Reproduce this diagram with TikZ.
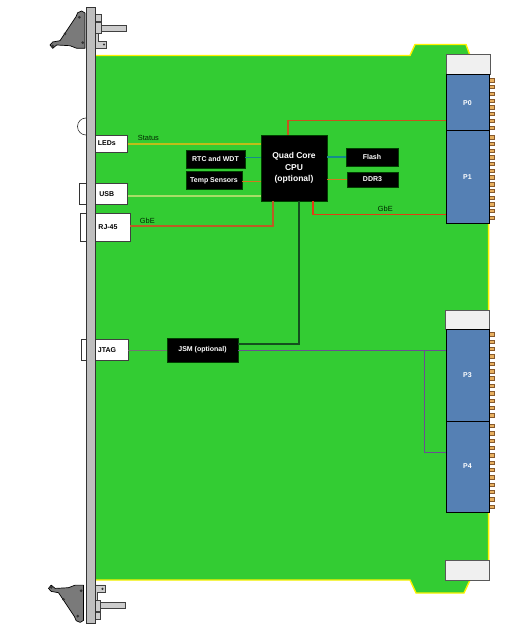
\documentclass[tikz,border=0pt]{standalone}
\usepackage{fontspec}
\setmainfont{Liberation Sans}
\definecolor{pcb}{HTML}{33CC33}
\definecolor{slotblue}{HTML}{5580B4}
\definecolor{capgrey}{HTML}{F0F0F0}
\definecolor{panelgrey}{HTML}{BEBEBE}
\definecolor{pinor}{HTML}{E8B060}
\tikzset{
  blackbox/.style={fill=black,draw=black!75!green,line width=.5pt,text=white,font=\bfseries\fontsize{7}{8.6}\selectfont,align=center,inner sep=0pt},
  sidebox/.style={fill=white,draw=black!75,line width=.8pt,text=black,font=\bfseries\fontsize{7}{8}\selectfont,inner sep=0pt},
  slotbox/.style={fill=slotblue,draw=black,line width=1pt,text=white,font=\bfseries\fontsize{7}{8}\selectfont,inner sep=0pt},
  capbox/.style={fill=capgrey,draw=black!65,line width=1pt},
  ear/.style={fill=white,draw=black!80,line width=.6pt},
  wire/.style={line width=1.2pt},
  thinwire/.style={line width=1pt},
  lbl/.style={font=\fontsize{7.4}{8}\selectfont,inner sep=0pt,text=black!85!green},
  latch/.style={fill=black!52,draw=black,line width=.7pt,line join=round},
  metal/.style={fill=black!20,draw=black!75,line width=.7pt},
  hole/.style={fill=black!80,draw=none},
  pin/.style={fill=pinor,draw=brown!70!black,line width=.4pt}
}
\newcommand{\hwparts}{%
    \draw[metal] (95,33.5) -- (98.5,33.5) -- (98.5,41.5) -- (106.5,41.5) -- (106.5,48.5) -- (95,48.5) -- cycle;
    \fill[hole] (104,44.5) circle (1.2);
    \draw[metal] (95.5,14) rectangle (101.5,21.5);
    \draw[metal] (95.5,22.5) rectangle (101.5,33.3);
    \draw[metal] (101.5,25.5) rectangle (126.5,31.5);
    \draw[latch] (81.7,11) -- (85,13) -- (85,48.3) -- (76.7,48.3) -- (70,45.7) -- (56.7,45) -- (52.7,48.3) -- (50,45) -- (52.7,42) -- (60,40.7) -- (76,16.7) -- (77.7,12.7) -- cycle;
    \foreach \hx/\hy in {79.3/17.3,65/34,82.7/42.7,52.7/46} \fill[hole] (\hx,\hy) circle (1.5);
}
\begin{document}
\begin{tikzpicture}[x=1pt,y=-1pt]
\useasboundingbox (0,0) rectangle (511,631);
\fill[white] (0,0) rectangle (511,631);
% board
\draw[fill=pcb,draw=yellow,line width=1.4pt,line join=round]
  (95,55.5) -- (410,55.5) -- (415,44.5) -- (466,44.5) -- (470,55.5) -- (488.6,55.5)
  -- (488.6,580) -- (470,580) -- (464,593) -- (416,593) -- (410,580) -- (95,580);
% hardware
\hwparts
\begin{scope}[shift={(-1.5,633.4)},yscale=-1]
\hwparts
\end{scope}
% pins
\foreach \i in {0,...,7} \draw[pin] (489.5,{78.5+\i*6.75}) rectangle +(4.5,3.4);
\foreach \i in {0,...,12} \draw[pin] (489.5,{135.5+\i*6.7}) rectangle +(4.5,3.4);
\foreach \i in {0,...,11} \draw[pin] (489.5,{332.5+\i*7.36}) rectangle +(4.5,3.4);
\foreach \i in {0,...,11} \draw[pin] (489.5,{424+\i*7.36}) rectangle +(4.5,3.4);
% front-panel ears
\draw[ear] (86,135) arc (90:270:8.5);
\draw[ear] (86,183.5) -- (79.5,183.5) -- (79.5,204.5) -- (86,204.5);
\draw[ear] (86,213) -- (80.5,213) -- (80.5,241.5) -- (86,241.5);
\draw[ear] (86,339.5) -- (81,339.5) -- (81,360.5) -- (86,360.5);
% nodes
\node[sidebox,minimum width=41.5pt,minimum height=17pt] (leds) at (106.75,143.5) {LEDs};
\node[sidebox,minimum width=41.5pt,minimum height=21pt] (usb) at (106.75,194) {USB};
\node[sidebox,minimum width=44pt,minimum height=28.5pt] (rj) at (108,227.25) {RJ-45};
\node[sidebox,minimum width=42pt,minimum height=21pt] (jtag) at (107,350) {JTAG};
\node[blackbox,minimum width=66pt,minimum height=66pt,font=\bfseries\fontsize{8.5}{11.2}\selectfont] (cpu) at (294,168) {Quad Core\\CPU\\(optional)};
\node[blackbox,minimum width=59pt,minimum height=18pt] (rtc) at (215.5,159) {RTC and WDT};
\node[blackbox,minimum width=56pt,minimum height=17.5pt] (temp) at (214,180.5) {Temp Sensors};
\node[blackbox,minimum width=52pt,minimum height=18pt] (flash) at (372,157) {Flash};
\node[blackbox,minimum width=51pt,minimum height=15pt] (ddr) at (372.5,179.5) {DDR3};
\node[blackbox,minimum width=71pt,minimum height=24pt] (jsm) at (202.5,350) {JSM (optional)};
\node[capbox,minimum width=44pt,minimum height=20pt,inner sep=0pt] (capa) at (468,65) {};
\node[capbox,minimum width=44pt,minimum height=19pt,inner sep=0pt] (capb) at (467,319.5) {};
\node[capbox,minimum width=44pt,minimum height=20pt,inner sep=0pt] (capc) at (467,570) {};
\node[slotbox,minimum width=43pt,minimum height=56pt] (p0) at (467.5,103) {P0};
\node[slotbox,minimum width=43pt,minimum height=92pt] (p1) at (467.5,177) {P1};
\node[slotbox,minimum width=43pt,minimum height=92pt] (p3) at (467.5,375) {P3};
\node[slotbox,minimum width=43pt,minimum height=91pt] (p4) at (467.5,466.5) {P4};
% connectors
\draw[wire,color={rgb,255:red,190;green,190;blue,25}] (leds.east |- 0,144) -- (cpu.west |- 0,144);
\draw[wire,color={rgb,255:red,168;green,222;blue,104}] (usb.east |- 0,196) -- (cpu.west |- 0,196);
\draw[wire,color={rgb,255:red,186;green,92;blue,36}] (rj.east |- 0,226) -- (273,226) -- (273,201);
\draw[wire,color={rgb,255:red,200;green,84;blue,30}] (288,135) -- (288,120.5) -- (p0.west |- 0,120.5);
\draw[wire,color={rgb,255:red,226;green,60;blue,20}] (313,201) -- (313,214.5) -- (p1.west |- 0,214.5);
\draw[thinwire,color={rgb,255:red,20;green,140;blue,140}] (rtc.east |- 0,157.5) -- (cpu.west |- 0,157.5);
\draw[thinwire,color={rgb,255:red,210;green,120;blue,30}] (temp.east |- 0,181) -- (cpu.west |- 0,181);
\draw[wire,color={rgb,255:red,20;green,140;blue,140}] (cpu.east |- flash.west) -- (flash.west);
\draw[thinwire,color={rgb,255:red,210;green,120;blue,30}] (cpu.east |- ddr.west) -- (ddr.west);
\draw[wire,color={rgb,255:red,20;green,80;blue,30}] (299,201) -- (299,344) -- (jsm.east |- 0,344);
\draw[thinwire,color=black!55] (jtag.east) -- (jsm.west);
\draw[thinwire,color={rgb,255:red,105;green,80;blue,145}] (jsm.east) -- (p3.west |- jsm.east);
\draw[thinwire,color={rgb,255:red,105;green,80;blue,145}] (424.5,350) -- (424.5,452) -- (p4.west |- 0,452);
% labels
\node[lbl,anchor=west] (st) at (137.7,138) {Status};
\node[lbl,anchor=west] (g1) at (139.7,221) {GbE};
\node[lbl,anchor=west] (g2) at (377.7,209) {GbE};
% front panel
\fill[panelgrey] (86,7.5) rectangle (95,623);
\draw[black!80,line width=.8pt] (86,623) -- (86,7.5) -- (95,7.5) -- (95,623) -- cycle;
\end{tikzpicture}
\end{document}
